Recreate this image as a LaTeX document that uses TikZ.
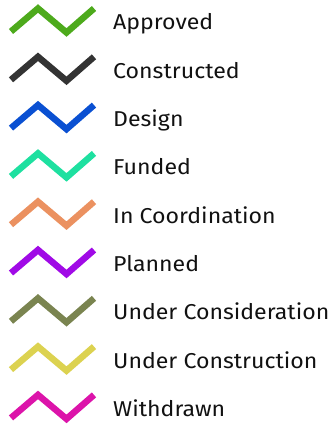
\documentclass[tikz,border=0pt]{standalone}
\usepackage{fontspec}
\setmainfont[Ligatures=NoCommon,FakeStretch=1.075]{Fira Sans}
\definecolor{cApproved}{HTML}{4DAA1C}
\definecolor{cConstructed}{HTML}{333333}
\definecolor{cDesign}{HTML}{0A50D2}
\definecolor{cFunded}{HTML}{1EE0A0}
\definecolor{cCoord}{HTML}{EB9160}
\definecolor{cPlanned}{HTML}{A00AE6}
\definecolor{cConsid}{HTML}{7A8450}
\definecolor{cConstr}{HTML}{DCD250}
\definecolor{cWithdrawn}{HTML}{DC14AA}
\definecolor{txt}{HTML}{111111}
\tikzset{
  zig/.style={line width=6.5pt, line cap=butt, line join=miter},
  lbl/.style={anchor=base west, inner sep=0pt, text=txt, font=\fontsize{21.5}{24}\selectfont}
}
\begin{document}
\begin{tikzpicture}[x=1pt,y=-1pt]
\useasboundingbox (0,0) rectangle (333,430);
\foreach \i/\c/\t in {0/cApproved/Approved,1/cConstructed/Constructed,2/cDesign/Design,3/cFunded/Funded,4/cCoord/In Coordination,5/cPlanned/Planned,6/cConsid/Under Consideration,7/cConstr/Under Construction,8/cWithdrawn/Withdrawn}{
  \pgfmathsetmacro{\cy}{20.5+48.3*\i}
  \draw[zig,\c] (11,\cy+11) -- (38,\cy-12) -- (66.5,\cy+12) -- (94,\cy-12);
  \node[lbl] (l\i) at (113,\cy+9.5) {\t};
}
\end{tikzpicture}
\end{document}
